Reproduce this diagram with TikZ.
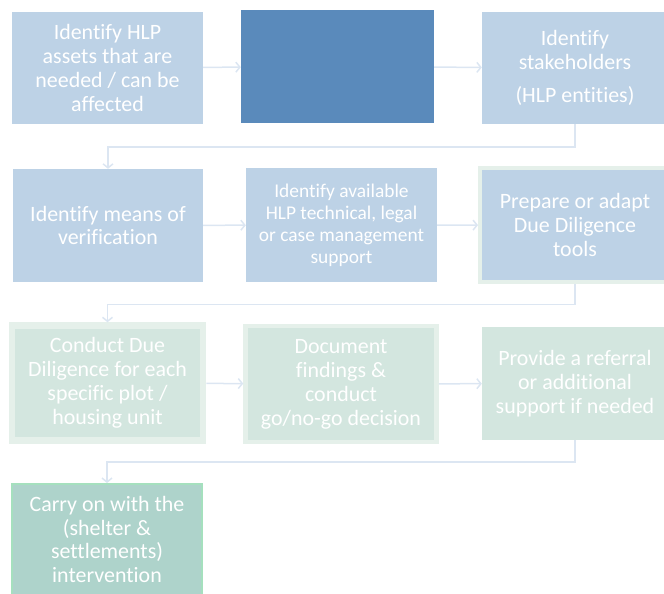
\documentclass[tikz,border=0pt]{standalone}
\usepackage{fontspec}
\setmainfont{Carlito}[Ligatures={NoCommon,NoRare,NoDiscretionary}]
\usetikzlibrary{arrows.meta}

\definecolor{azulclaro}{HTML}{BDD2E6}
\definecolor{azuloscuro}{HTML}{5A8ABB}
\definecolor{verdeclaro}{HTML}{D3E6DF}
\definecolor{verdeborde}{HTML}{E5F0EA}
\definecolor{verdefinal}{HTML}{AED3CB}
\definecolor{verdevivo}{HTML}{A5E0BE}
\definecolor{flechacol}{HTML}{DCE6F2}

\tikzset{
  paso/.style={rectangle, fill=azulclaro, text=white, align=center,
    inner sep=0pt, font=\fontsize{22}{24}\selectfont},
  pasoverde/.style={paso, fill=verdeclaro},
  flecha/.style={draw=flechacol, line width=1.5bp,
    -{Straight Barb[length=4bp,width=10bp,line width=1.5bp]}}
}

\begin{document}
\begin{tikzpicture}[x=1bp,y=-1bp]
    \useasboundingbox (0,0) rectangle (664,594);
    \clip (0,0) rectangle (664,594);
    % Fila 1
    \node[paso, minimum width=191bp, minimum height=112bp] (activos) at (107.5,68)
        {Identify HLP\\assets that are\\needed / can be\\affected};
    \node[paso, fill=azuloscuro, minimum width=193bp, minimum height=113bp] (vacio) at (337.5,66.5) {};
    \node[paso, minimum width=186bp, minimum height=112bp] (actores) at (575,68)
        {Identify\\stakeholders\\[10bp](HLP entities)};
    % Fila 2
    \node[paso, minimum width=190bp, minimum height=113bp] (medios) at (108,225.5)
        {Identify means of\\verification};
    \node[paso, minimum width=191bp, minimum height=114bp, font=\fontsize{19.5}{22}\selectfont] (apoyo) at (341.5,225)
        {Identify available\\HLP technical, legal\\or case management\\support};
    \node[paso, draw=verdeborde, line width=4bp, minimum width=190bp, minimum height=114.5bp] (herram) at (575,225.2)
        {Prepare or adapt\\Due Diligence\\tools};
    % Fila 3
    \node[pasoverde, draw=verdeborde, line width=6.5bp, minimum width=191bp, minimum height=115bp] (diligencia) at (107.5,383)
        {Conduct Due\\Diligence for each\\specific plot /\\housing unit};
    \node[pasoverde, draw=verdeborde, line width=4.5bp, minimum width=191bp, minimum height=116bp] (decision) at (341,384)
        {Document\\findings \&\\conduct\\go/no-go decision};
    \node[pasoverde, minimum width=186bp, minimum height=113bp] (referencia) at (575,383.5)
        {Provide a referral\\or additional\\support if needed};
    % Fila 4
    \node[pasoverde, fill=verdefinal, draw=verdevivo, line width=2bp, minimum width=190bp, minimum height=111bp] (intervencion) at (107,539.5)
        {Carry on with the\\(shelter \&\\settlements)\\intervention};
    % Flechas
    \draw[flecha] (activos) -- (vacio);
    \draw[flecha] (vacio) -- (actores);
    \draw[flecha] (actores.south) -- ++(0,23) -| (medios.north);
    \draw[flecha] (medios) -- (apoyo);
    \draw[flecha] (apoyo) -- (herram);
    \draw[flecha] (herram.south) -- ++(0,20) -| (diligencia.north);
    \draw[flecha] (diligencia) -- (decision);
    \draw[flecha] (decision) -- (referencia);
    \draw[flecha] (referencia.south) -- ++(0,22) -| (intervencion.north);
\end{tikzpicture}
\end{document}
